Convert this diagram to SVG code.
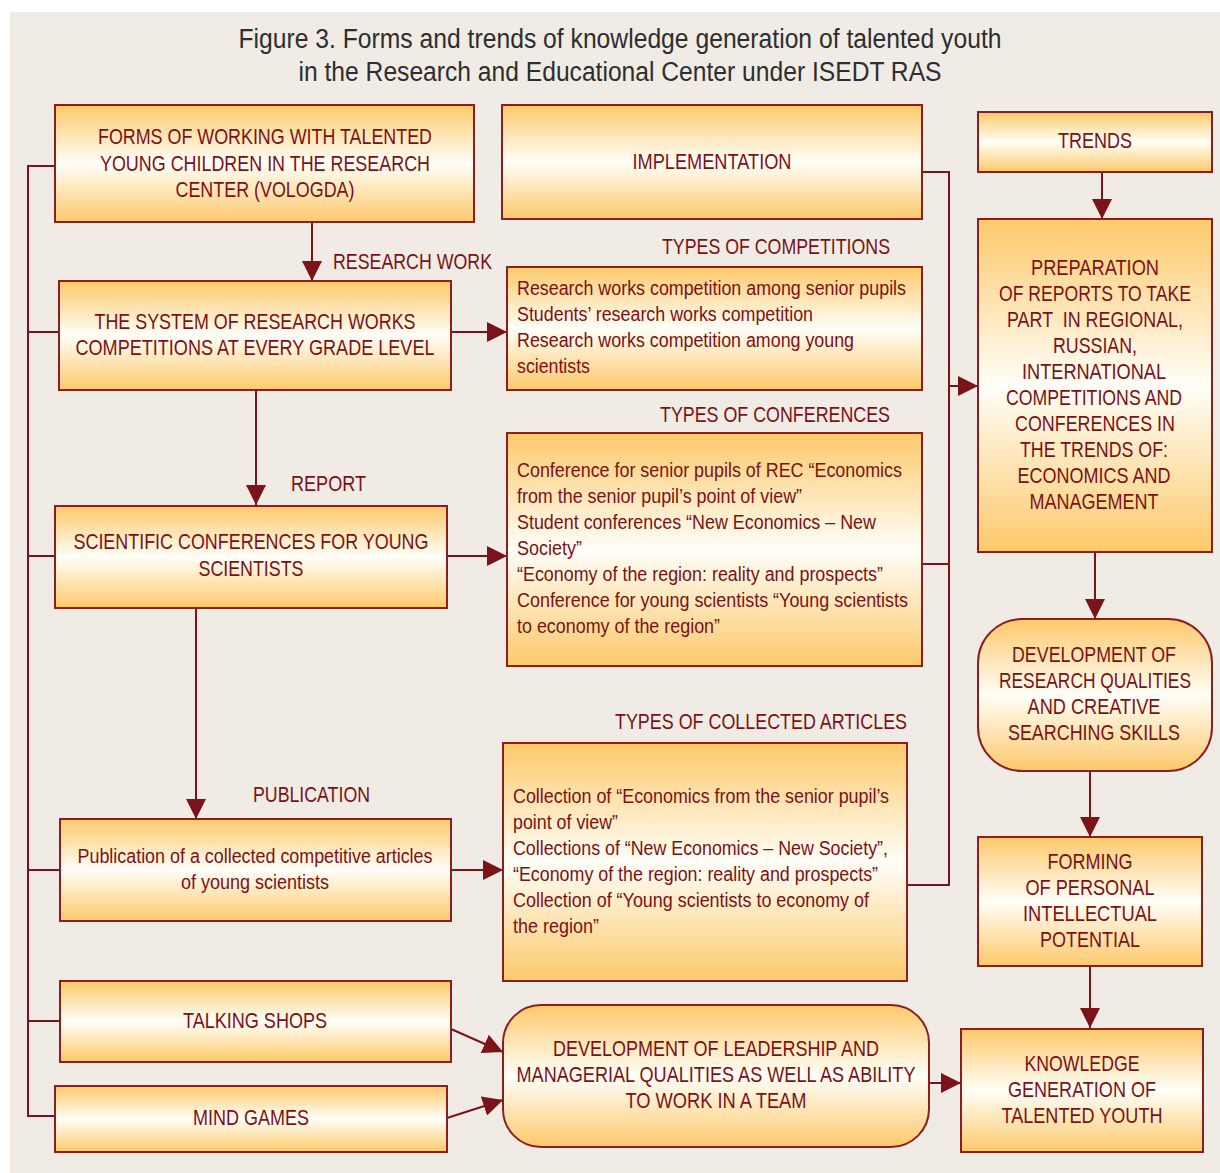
<svg xmlns="http://www.w3.org/2000/svg" width="1220" height="1173" viewBox="0 0 1220 1173">
<defs>
<linearGradient id="g" x1="0" y1="0" x2="0" y2="1">
<stop offset="0" stop-color="#FDC96A"/>
<stop offset="0.5" stop-color="#FFFEF8"/>
<stop offset="1" stop-color="#FDC96A"/>
</linearGradient>
<marker id="ah" markerUnits="userSpaceOnUse" markerWidth="20" markerHeight="20" refX="20" refY="10" orient="auto">
<path d="M0,0 L20,10 L0,20 z" fill="#7B1419"/>
</marker>
<style>
.b{fill:url(#g);stroke:#8A1F22;stroke-width:2}
.t{font-family:"Liberation Sans Narrow","Liberation Sans",Arial,sans-serif;font-size:22px;fill:#7A1215}
.s{font-family:"Liberation Sans Narrow","Liberation Sans",Arial,sans-serif;font-size:20px;fill:#7A1215}
.c{text-anchor:middle}
.ln{fill:none;stroke:#7B1419;stroke-width:2}
.ar{fill:none;stroke:#7B1419;stroke-width:2;marker-end:url(#ah)}
.ti{font-family:"Liberation Sans Narrow","Liberation Sans",Arial,sans-serif;font-size:27px;fill:#2E2E2E;text-anchor:middle}
</style>
</defs>
<rect x="10" y="12" width="1210" height="1161" fill="#F0EBE4"/>
<g id="title">
<text class="ti" x="620" y="48" textLength="763" lengthAdjust="spacingAndGlyphs">Figure 3. Forms and trends of knowledge generation of talented youth</text>
<text class="ti" x="620" y="81" textLength="643" lengthAdjust="spacingAndGlyphs">in the Research and Educational Center under ISEDT RAS</text>
</g>
<g id="connectors">
<path class="ln" d="M55,166 H28 V1116 H55"/>
<path class="ln" d="M28,332 H59"/>
<path class="ln" d="M28,556 H55"/>
<path class="ln" d="M28,870 H60"/>
<path class="ln" d="M28,1021 H60"/>
<path class="ar" d="M312,222 V281"/>
<path class="ar" d="M451,332 H507"/>
<path class="ar" d="M256,390 V505"/>
<path class="ar" d="M447,556 H507"/>
<path class="ar" d="M196,607 V819"/>
<path class="ar" d="M451,870 H503"/>
<path class="ln" d="M922,172 H949 V885 H907"/>
<path class="ln" d="M922,564 H949"/>
<path class="ar" d="M949,386 H978"/>
<path class="ar" d="M1102,172 V219"/>
<path class="ar" d="M1095,552 V619"/>
<path class="ar" d="M1090,771 V837"/>
<path class="ar" d="M1090,966 V1028"/>
<path class="ar" d="M451,1029 L503,1052"/>
<path class="ar" d="M447,1118 L503,1100"/>
<path class="ar" d="M929,1083 H961"/>
</g>
<g id="labels">
<text class="t" x="333" y="269" textLength="159" lengthAdjust="spacingAndGlyphs">RESEARCH WORK</text>
<text class="t" x="291" y="491" textLength="75" lengthAdjust="spacingAndGlyphs">REPORT</text>
<text class="t" x="253" y="802" textLength="117" lengthAdjust="spacingAndGlyphs">PUBLICATION</text>
<text class="t" x="662" y="254" textLength="228" lengthAdjust="spacingAndGlyphs">TYPES OF COMPETITIONS</text>
<text class="t" x="660" y="422" textLength="230" lengthAdjust="spacingAndGlyphs">TYPES OF CONFERENCES</text>
<text class="t" x="615" y="729" textLength="292" lengthAdjust="spacingAndGlyphs">TYPES OF COLLECTED ARTICLES</text>
</g>
<g id="forms">
<rect class="b" x="55" y="105" width="419" height="117"/>
<text class="t c" x="265" y="144" textLength="334" lengthAdjust="spacingAndGlyphs">FORMS OF WORKING WITH TALENTED</text>
<text class="t c" x="265" y="171" textLength="330" lengthAdjust="spacingAndGlyphs">YOUNG CHILDREN IN THE RESEARCH</text>
<text class="t c" x="265" y="197" textLength="179" lengthAdjust="spacingAndGlyphs">CENTER (VOLOGDA)</text>
</g>
<g id="implementation">
<rect class="b" x="502" y="105" width="420" height="114"/>
<text class="t c" x="712" y="169" textLength="159" lengthAdjust="spacingAndGlyphs">IMPLEMENTATION</text>
</g>
<g id="trends">
<rect class="b" x="978" y="112" width="234" height="60"/>
<text class="t c" x="1095" y="148" textLength="74" lengthAdjust="spacingAndGlyphs">TRENDS</text>
</g>
<g id="system">
<rect class="b" x="59" y="281" width="392" height="109"/>
<text class="t c" x="255" y="329" textLength="321" lengthAdjust="spacingAndGlyphs">THE SYSTEM OF RESEARCH WORKS</text>
<text class="t c" x="255" y="355" textLength="359" lengthAdjust="spacingAndGlyphs">COMPETITIONS AT EVERY GRADE LEVEL</text>
</g>
<g id="competitions">
<rect class="b" x="507" y="267" width="415" height="123"/>
<text class="s" x="517" y="295" textLength="389" lengthAdjust="spacingAndGlyphs">Research works competition among senior pupils</text>
<text class="s" x="517" y="321" textLength="296" lengthAdjust="spacingAndGlyphs">Students’ research works competition</text>
<text class="s" x="517" y="347" textLength="337" lengthAdjust="spacingAndGlyphs">Research works competition among young</text>
<text class="s" x="517" y="373" textLength="73" lengthAdjust="spacingAndGlyphs">scientists</text>
</g>
<g id="preparation">
<rect class="b" x="978" y="219" width="234" height="333"/>
<text class="t c" x="1095" y="275" textLength="128" lengthAdjust="spacingAndGlyphs">PREPARATION</text>
<text class="t c" x="1095" y="301" textLength="192" lengthAdjust="spacingAndGlyphs">OF REPORTS TO TAKE</text>
<text class="t c" x="1095" y="327" textLength="176" lengthAdjust="spacingAndGlyphs" xml:space="preserve">PART  IN REGIONAL,</text>
<text class="t c" x="1095" y="353" textLength="84" lengthAdjust="spacingAndGlyphs">RUSSIAN,</text>
<text class="t c" x="1094" y="379" textLength="144" lengthAdjust="spacingAndGlyphs">INTERNATIONAL</text>
<text class="t c" x="1094" y="405" textLength="176" lengthAdjust="spacingAndGlyphs">COMPETITIONS AND</text>
<text class="t c" x="1095" y="431" textLength="160" lengthAdjust="spacingAndGlyphs">CONFERENCES IN</text>
<text class="t c" x="1094" y="457" textLength="148" lengthAdjust="spacingAndGlyphs">THE TRENDS OF:</text>
<text class="t c" x="1094" y="483" textLength="153" lengthAdjust="spacingAndGlyphs">ECONOMICS AND</text>
<text class="t c" x="1094" y="509" textLength="129" lengthAdjust="spacingAndGlyphs">MANAGEMENT</text>
</g>
<g id="scientific">
<rect class="b" x="55" y="506" width="392" height="102"/>
<text class="t c" x="251" y="549" textLength="355" lengthAdjust="spacingAndGlyphs">SCIENTIFIC CONFERENCES FOR YOUNG</text>
<text class="t c" x="251" y="576" textLength="105" lengthAdjust="spacingAndGlyphs">SCIENTISTS</text>
</g>
<g id="conferences">
<rect class="b" x="507" y="433" width="415" height="233"/>
<text class="s" x="517" y="477" textLength="385" lengthAdjust="spacingAndGlyphs">Conference for senior pupils of REC “Economics</text>
<text class="s" x="517" y="503" textLength="285" lengthAdjust="spacingAndGlyphs">from the senior pupil’s point of view”</text>
<text class="s" x="517" y="529" textLength="359" lengthAdjust="spacingAndGlyphs">Student conferences “New Economics – New</text>
<text class="s" x="517" y="555" textLength="65" lengthAdjust="spacingAndGlyphs">Society”</text>
<text class="s" x="517" y="581" textLength="366" lengthAdjust="spacingAndGlyphs">“Economy of the region: reality and prospects”</text>
<text class="s" x="517" y="607" textLength="391" lengthAdjust="spacingAndGlyphs">Conference for young scientists “Young scientists</text>
<text class="s" x="517" y="633" textLength="203" lengthAdjust="spacingAndGlyphs">to economy of the region”</text>
</g>
<g id="dev-research">
<rect class="b" x="978" y="619" width="234" height="152" rx="44"/>
<text class="t c" x="1094" y="662" textLength="164" lengthAdjust="spacingAndGlyphs">DEVELOPMENT OF</text>
<text class="t c" x="1095" y="688" textLength="192" lengthAdjust="spacingAndGlyphs">RESEARCH QUALITIES</text>
<text class="t c" x="1094" y="714" textLength="133" lengthAdjust="spacingAndGlyphs">AND CREATIVE</text>
<text class="t c" x="1094" y="740" textLength="172" lengthAdjust="spacingAndGlyphs">SEARCHING SKILLS</text>
</g>
<g id="articles">
<rect class="b" x="503" y="743" width="404" height="238"/>
<text class="s" x="513" y="803" textLength="376" lengthAdjust="spacingAndGlyphs">Collection of “Economics from the senior pupil’s</text>
<text class="s" x="513" y="829" textLength="105" lengthAdjust="spacingAndGlyphs">point of view”</text>
<text class="s" x="513" y="855" textLength="375" lengthAdjust="spacingAndGlyphs">Collections of “New Economics – New Society”,</text>
<text class="s" x="513" y="881" textLength="365" lengthAdjust="spacingAndGlyphs">“Economy of the region: reality and prospects”</text>
<text class="s" x="513" y="907" textLength="356" lengthAdjust="spacingAndGlyphs">Collection of “Young scientists to economy of</text>
<text class="s" x="513" y="933" textLength="86" lengthAdjust="spacingAndGlyphs">the region”</text>
</g>
<g id="publication">
<rect class="b" x="60" y="819" width="391" height="102"/>
<text class="s c" x="255" y="863" textLength="355" lengthAdjust="spacingAndGlyphs">Publication of a collected competitive articles</text>
<text class="s c" x="255" y="889" textLength="148" lengthAdjust="spacingAndGlyphs">of young scientists</text>
</g>
<g id="forming">
<rect class="b" x="978" y="837" width="224" height="129"/>
<text class="t c" x="1090" y="869" textLength="85" lengthAdjust="spacingAndGlyphs">FORMING</text>
<text class="t c" x="1090" y="895" textLength="129" lengthAdjust="spacingAndGlyphs">OF PERSONAL</text>
<text class="t c" x="1090" y="921" textLength="134" lengthAdjust="spacingAndGlyphs">INTELLECTUAL</text>
<text class="t c" x="1090" y="947" textLength="100" lengthAdjust="spacingAndGlyphs">POTENTIAL</text>
</g>
<g id="talking-shops">
<rect class="b" x="60" y="981" width="391" height="81"/>
<text class="t c" x="255" y="1028" textLength="144" lengthAdjust="spacingAndGlyphs">TALKING SHOPS</text>
</g>
<g id="mind-games">
<rect class="b" x="55" y="1086" width="392" height="66"/>
<text class="t c" x="251" y="1125" textLength="116" lengthAdjust="spacingAndGlyphs">MIND GAMES</text>
</g>
<g id="leadership">
<rect class="b" x="503" y="1005" width="426" height="142" rx="38"/>
<text class="t c" x="716" y="1056" textLength="326" lengthAdjust="spacingAndGlyphs">DEVELOPMENT OF LEADERSHIP AND</text>
<text class="t c" x="716" y="1082" textLength="399" lengthAdjust="spacingAndGlyphs">MANAGERIAL QUALITIES AS WELL AS ABILITY</text>
<text class="t c" x="716" y="1108" textLength="181" lengthAdjust="spacingAndGlyphs">TO WORK IN A TEAM</text>
</g>
<g id="knowledge">
<rect class="b" x="961" y="1029" width="242" height="123"/>
<text class="t c" x="1082" y="1071" textLength="115" lengthAdjust="spacingAndGlyphs">KNOWLEDGE</text>
<text class="t c" x="1082" y="1097" textLength="148" lengthAdjust="spacingAndGlyphs">GENERATION OF</text>
<text class="t c" x="1082" y="1123" textLength="161" lengthAdjust="spacingAndGlyphs">TALENTED YOUTH</text>
</g>
</svg>
